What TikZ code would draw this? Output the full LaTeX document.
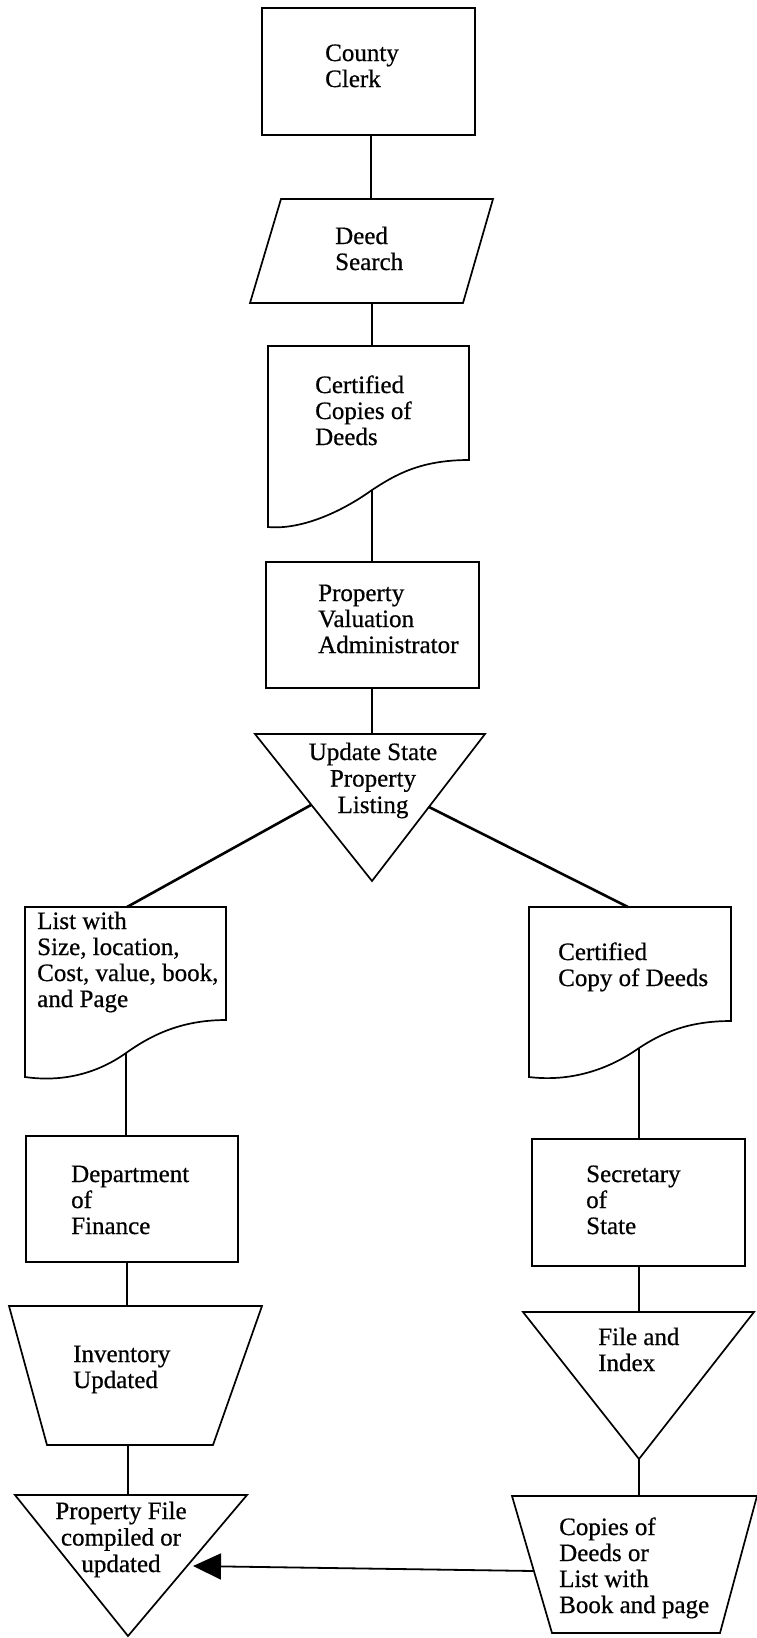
\documentclass[tikz,border=0pt]{standalone}
\usepackage{fontspec}
\setmainfont{Liberation Serif}[FakeBold=0.6]
\usetikzlibrary{arrows.meta}
\begin{document}
\begin{tikzpicture}[x=1pt,y=-1pt,
  shp/.style={draw, line width=1.7pt, line join=miter},
  box/.style={draw, line width=1.7pt, inner sep=0pt, rectangle},
  conn/.style={line width=2.6pt},
  lbl/.style={inner sep=0pt, anchor=base west, align=left, font=\fontsize{25}{26}\selectfont},
  clbl/.style={inner sep=0pt, anchor=base, align=center, font=\fontsize{25}{26.5}\selectfont}]
\useasboundingbox[fill=white] (0,0) rectangle (756,1638);

% ---------- shapes ----------
% County Clerk
\node[box, minimum width=213pt, minimum height=127pt] (cc) at (368.5,71.5) {};
% Deed Search (parallelogram)
\draw[shp] (281,199) -- (493,199) -- (463,303) -- (250,303) -- cycle;
\coordinate (ds-n) at (371,199);
\coordinate (ds-s) at (372,303);
% Certified Copies of Deeds (document)
\draw[shp] (268,346) -- (469,346) -- (469,460)
  .. controls (420,460) and (395,475) .. (372,490)
  .. controls (340,513) and (300,530) .. (268,527) -- cycle;
\coordinate (cd-n) at (372,346);
\coordinate (cd-s) at (372,490);
% Property Valuation Administrator
\node[box, minimum width=213pt, minimum height=126pt] (pva) at (372.5,625) {};
% Update State Property Listing (triangle)
\draw[shp] (255,734) -- (485,734) -- (372,881) -- cycle;
\coordinate (us-n) at (372,734);
\coordinate (us-w) at (311,805);
\coordinate (us-e) at (429,807);
% List with ... (document)
\draw[shp] (25,907) -- (226,907) -- (226,1020)
  .. controls (180,1020) and (150,1036) .. (126,1053)
  .. controls (95,1075) and (60,1082) .. (25,1077) -- cycle;
\coordinate (lw-n) at (127,907);
\coordinate (lw-s) at (126,1053);
% Certified Copy of Deeds (document)
\draw[shp] (529,907) -- (731,907) -- (731,1021)
  .. controls (688,1021) and (662,1033) .. (639,1048)
  .. controls (608,1070) and (570,1082) .. (529,1077) -- cycle;
\coordinate (ccd-n) at (628,907);
\coordinate (ccd-s) at (639,1048);
% Department of Finance
\node[box, minimum width=212pt, minimum height=126pt] (df) at (132,1199) {};
% Secretary of State
\node[box, minimum width=213pt, minimum height=127pt] (ss) at (638.5,1202.5) {};
% Inventory Updated (trapezoid)
\draw[shp] (9,1306) -- (262,1306) -- (213,1445) -- (47,1445) -- cycle;
\coordinate (iu-n) at (127,1306);
\coordinate (iu-s) at (128,1445);
% File and Index (triangle)
\draw[shp] (523,1312) -- (754,1312) -- (639,1459) -- cycle;
\coordinate (fi-n) at (639,1312);
\coordinate (fi-s) at (639,1459);
% Property File (triangle)
\draw[shp] (15,1495) -- (247,1495) -- (128,1636) -- cycle;
\coordinate (pf-n) at (128,1495);
\coordinate (pf-e) at (193,1566);
% Copies of Deeds (trapezoid)
\draw[shp] (512,1496) -- (757,1496) -- (720,1633) -- (552,1633) -- cycle;
\coordinate (cod-n) at (639,1496);
\coordinate (cod-w) at (534,1571);

% ---------- texts (anchor = baseline of last line) ----------
\node[lbl] (t-cc) at (325,87) {County\\Clerk};
\node[lbl] (t-ds) at (335,270) {Deed\\Search};
\node[lbl] (t-cd) at (315,445) {Certified\\Copies of\\Deeds};
\node[lbl] (t-pva) at (318,653) {Property\\Valuation\\Administrator};
\node[clbl] (t-us) at (373,813) {Update State\\Property\\Listing};
\node[lbl] (t-lw) at (37,1007) {List with\\Size, location,\\Cost, value, book,\\and Page};
\node[lbl] (t-ccd) at (558,986) {Certified\\Copy of Deeds};
\node[lbl] (t-df) at (71,1234) {Department\\of\\Finance};
\node[lbl] (t-ss) at (586,1234) {Secretary\\of\\State};
\node[lbl] (t-iu) at (73,1388) {Inventory\\Updated};
\node[lbl] (t-fi) at (598,1371) {File and\\Index};
\node[clbl] (t-pf) at (121,1572) {Property File\\compiled or\\updated};
\node[lbl] (t-cod) at (559,1613) {Copies of\\Deeds or\\List with\\Book and page};

% ---------- connectors ----------
\draw[conn] (ds-n |- cc.south) -- (ds-n);
\draw[conn] (ds-s) -- (cd-n);
\draw[conn] (cd-s) -- (cd-s |- pva.north);
\draw[conn] (us-n |- pva.south) -- (us-n);
\draw[conn] (us-w) -- (lw-n);
\draw[conn] (us-e) -- (ccd-n);
\draw[conn] (lw-s) -- (lw-s |- df.north);
\draw[conn] (ccd-s) -- (ccd-s |- ss.north);
\draw[conn] (iu-n |- df.south) -- (iu-n);
\draw[conn] (iu-s) -- (pf-n);
\draw[conn] (fi-n |- ss.south) -- (fi-n);
\draw[conn] (fi-s) -- (cod-n);
\draw[line width=1.8pt, -{Triangle[length=28pt,width=26pt]}] (cod-w) -- (pf-e);
\end{tikzpicture}
\end{document}
